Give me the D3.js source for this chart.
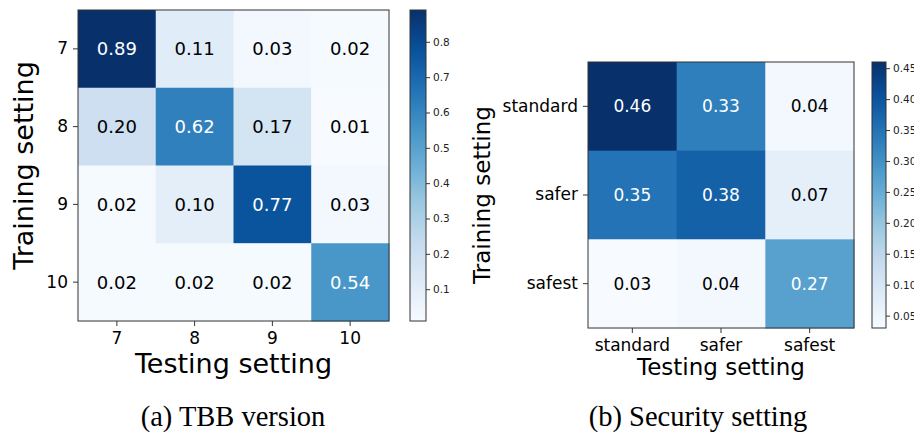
<!DOCTYPE html>
<html>
<head>
<meta charset="utf-8">
<script src="https://cdn.jsdelivr.net/npm/d3@7"></script>
<style>
  body { margin: 0; background: #fff; }
  svg { display: block; }
  text { font-family: "DejaVu Sans", sans-serif; }
  .caption { font-family: "Liberation Serif", "Times New Roman", serif; }
</style>
</head>
<body>
<svg id="chart" width="914" height="434"></svg>
<script>
// (a) TBB version
const tbbLabels = ["7", "8", "9", "10"];
const tbbValues = [
  [0.89, 0.11, 0.03, 0.02],
  [0.20, 0.62, 0.17, 0.01],
  [0.02, 0.10, 0.77, 0.03],
  [0.02, 0.02, 0.02, 0.54]
];
const tbbTicks = [0.1, 0.2, 0.3, 0.4, 0.5, 0.6, 0.7, 0.8];

// (b) Security setting
const secLabels = ["standard", "safer", "safest"];
const secValues = [
  [0.46, 0.33, 0.04],
  [0.35, 0.38, 0.07],
  [0.03, 0.04, 0.27]
];
const secTicks = [0.05, 0.10, 0.15, 0.20, 0.25, 0.30, 0.35, 0.40, 0.45];

const svg = d3.select("#chart");
const blues = d3.schemeBlues[9]; // same stops as matplotlib "Blues"

function drawHeatmap(opt) {
  const g = svg.append("g");
  const all = opt.values.flat();
  const [vmin, vmax] = d3.extent(all);

  const color = d3.scaleLinear()
    .domain(d3.range(9).map(i => vmin + (vmax - vmin) * i / 8))
    .range(blues)
    .clamp(true);

  const x = d3.scaleBand().domain(opt.labels).range([opt.x, opt.x + opt.size]);
  const y = d3.scaleBand().domain(opt.labels).range([opt.y, opt.y + opt.size]);

  const cells = [];
  opt.values.forEach((row, i) => row.forEach((v, j) => {
    cells.push({ row: opt.labels[i], col: opt.labels[j], v: v });
  }));

  g.selectAll("rect.cell")
    .data(cells)
    .join("rect")
    .attr("class", "cell")
    .attr("x", d => x(d.col))
    .attr("y", d => y(d.row))
    .attr("width", x.bandwidth() + 0.5)
    .attr("height", y.bandwidth() + 0.5)
    .attr("fill", d => color(d.v));

  g.selectAll("text.ann")
    .data(cells)
    .join("text")
    .attr("class", "ann")
    .attr("x", d => x(d.col) + x.bandwidth() / 2)
    .attr("y", d => y(d.row) + y.bandwidth() / 2)
    .attr("dy", "0.36em")
    .attr("text-anchor", "middle")
    .style("font-size", opt.annSize + "px")
    .attr("fill", d => d.v > vmax / 2 ? "#fff" : "#000")
    .text(d => d.v.toFixed(2));

  // frame
  g.append("rect")
    .attr("x", opt.x).attr("y", opt.y)
    .attr("width", opt.size).attr("height", opt.size)
    .attr("fill", "none").attr("stroke", "#333").attr("stroke-width", 1);

  // axes
  const xAxis = g.append("g")
    .attr("transform", `translate(0,${opt.y + opt.size})`)
    .call(d3.axisBottom(x).tickSize(5).tickPadding(6));
  const yAxis = g.append("g")
    .attr("transform", `translate(${opt.x},0)`)
    .call(d3.axisLeft(y).tickSize(5).tickPadding(5));
  [xAxis, yAxis].forEach(a => {
    a.select(".domain").remove();
    a.selectAll(".tick line").attr("stroke", "#333");
    a.selectAll(".tick text")
      .attr("fill", "#000")
      .style("font-family", "DejaVu Sans")
      .style("font-size", opt.tickSize + "px");
  });

  g.append("text")
    .attr("x", opt.x + opt.size / 2)
    .attr("y", opt.xLabelY)
    .attr("text-anchor", "middle")
    .style("font-size", opt.labelSize + "px")
    .text("Testing setting");

  g.append("text")
    .attr("transform", `translate(${opt.yLabelX},${opt.y + opt.size / 2}) rotate(-90)`)
    .attr("text-anchor", "middle")
    .style("font-size", opt.labelSize + "px")
    .text("Training setting");

  // colorbar
  const gradId = "grad-" + opt.id;
  const grad = svg.append("defs").append("linearGradient")
    .attr("id", gradId)
    .attr("x1", 0).attr("y1", 1).attr("x2", 0).attr("y2", 0);
  d3.range(0, 1.0001, 0.05).forEach(t => {
    grad.append("stop")
      .attr("offset", t)
      .attr("stop-color", color(vmin + (vmax - vmin) * t));
  });

  const cb = d3.scaleLinear().domain([vmin, vmax]).range([opt.y + opt.size, opt.y]);
  g.append("rect")
    .attr("x", opt.cbX).attr("y", opt.y)
    .attr("width", opt.cbW).attr("height", opt.size)
    .attr("fill", `url(#${gradId})`)
    .attr("stroke", "#333").attr("stroke-width", 1);

  const cbAxis = g.append("g")
    .attr("transform", `translate(${opt.cbX + opt.cbW},0)`)
    .call(d3.axisRight(cb).tickValues(opt.ticks).tickFormat(d3.format(opt.tickFmt)).tickSize(4).tickPadding(3));
  cbAxis.select(".domain").remove();
  cbAxis.selectAll(".tick line").attr("stroke", "#333");
  cbAxis.selectAll(".tick text")
    .attr("fill", "#222")
    .style("font-family", "DejaVu Sans")
    .style("font-size", "10.5px");

  svg.append("text")
    .attr("class", "caption")
    .attr("x", opt.captionX)
    .attr("y", 426)
    .attr("text-anchor", "middle")
    .style("font-size", "28.5px")
    .text(opt.caption);
}

drawHeatmap({
  id: "tbb", labels: tbbLabels, values: tbbValues, ticks: tbbTicks, tickFmt: ".1f",
  x: 78, y: 10, size: 311, annSize: 18, tickSize: 17, labelSize: 27,
  xLabelY: 373, yLabelX: 33, cbX: 410, cbW: 16,
  caption: "(a) TBB version", captionX: 233
});

drawHeatmap({
  id: "sec", labels: secLabels, values: secValues, ticks: secTicks, tickFmt: ".2f",
  x: 588, y: 62, size: 266, annSize: 17, tickSize: 17, labelSize: 23,
  xLabelY: 375, yLabelX: 490, cbX: 872, cbW: 14,
  caption: "(b) Security setting", captionX: 698
});
</script>
</body>
</html>
